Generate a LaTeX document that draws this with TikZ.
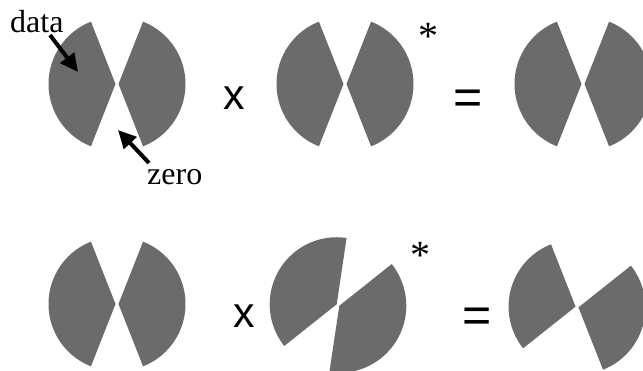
\documentclass[tikz,border=0pt]{standalone}
\usepackage{fontspec}
\setmainfont{Liberation Serif}
\newfontfamily\opfont{Liberation Sans}
\usetikzlibrary{arrows.meta}
\definecolor{discgray}{RGB}{107,107,107}

\begin{document}
\begin{tikzpicture}[x=1pt, y=1pt,
    sector/.style={fill=discgray},
    lbl/.style={font=\fontsize{32}{38}\selectfont, inner sep=0pt},
    op/.style={font=\opfont\fontsize{43}{50}\selectfont, inner sep=0pt},
    conj/.style={font=\fontsize{40}{48}\selectfont, inner sep=0pt},
    pointer/.style={-{Triangle[length=18pt, width=17pt]}, line width=4pt}
]
\useasboundingbox (0,0) rectangle (643,370);
\clip (0,0) rectangle (643,370);

% Discs: centre x / centre y / start angle / end angle
\foreach \cx/\cy/\sa/\ea in {117/286/111.5/248.5, 117/286/-68.5/68.5,
                             345/286/111.5/248.5, 345/286/-68.5/68.5,
                             583/286/111.5/248.5, 583/286/-68.5/68.5,
                             117/66/111.5/248.5, 117/66/-68.5/68.5,
                             338/65/81.5/218.5, 338/65/261.5/398.5,
                             577/63/111.5/218.5, 577/63/291.5/398.5}
  \fill[sector] ([shift={({(\sa+\ea)/2}:1.5)}]\cx,\cy) -- ++(\sa:67)
    arc[start angle=\sa, end angle=\ea, radius=67] -- cycle;

% Labels
\node[lbl, anchor=base west] (data) at (10,337) {data};
\node[lbl, anchor=base west] (zero) at (147,185) {zero};
\coordinate (datatip) at (78,298);
\coordinate (zerotip) at (118,240);
\draw[pointer] ([shift={(40pt,-2pt)}]data.base west) -- (datatip);
\draw[pointer] ([shift={(2pt,22pt)}]zero.base west) -- (zerotip);

% Operators
\node[op] (times1) at (234,272) {x};
\node[op] (times2) at (244,54) {x};
\node[op, font=\opfont\fontsize{50}{60}\selectfont, anchor=base] (eq1) at (468,255) {=};
\node[op, font=\opfont\fontsize{50}{60}\selectfont, anchor=base] (eq2) at (477,38) {=};
\node[conj] (conj1) at (428,334) {*};
\node[conj] (conj2) at (420,115) {*};

\end{tikzpicture}
\end{document}
